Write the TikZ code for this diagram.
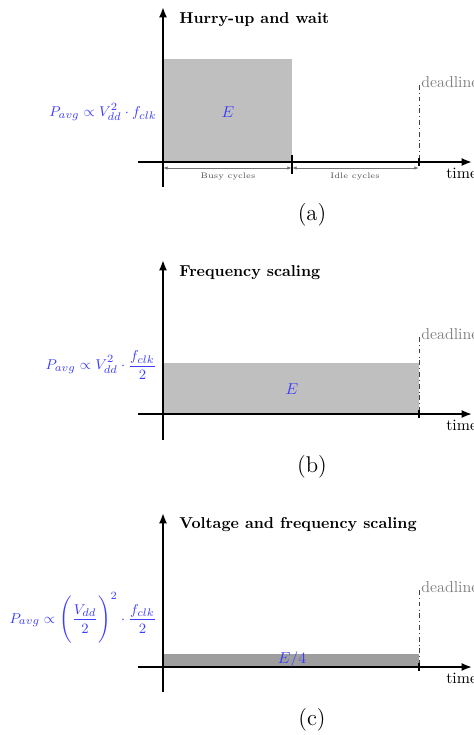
\documentclass[tikz,border=0pt]{standalone}
\usetikzlibrary{arrows.meta}
\definecolor{formblue}{RGB}{60,60,255}
\tikzset{
  axis/.style={line width=1.1pt,-{Latex[length=6.5pt,width=5pt]}},
  energy/.style={fill=black!25,draw=none},
  energydark/.style={fill=black!38,draw=none},
  deadl/.style={dash dot,line width=0.45pt,black!75},
  tickmark/.style={line width=1.1pt},
  dimarrow/.style={black!55,line width=0.6pt,{Latex[length=3pt,width=2.2pt]}-{Latex[length=3pt,width=2.2pt]}},
  dimlabel/.style={font=\tiny,text=black!70,inner sep=0pt},
  title/.style={font=\bfseries,anchor=west,inner sep=0pt},
  formula/.style={text=formblue,anchor=east,inner sep=0pt,font=\fontsize{9.4}{11}\selectfont},
  elabel/.style={text=formblue,inner sep=0pt},
  dlabel/.style={text=black!50,anchor=base west,inner sep=0pt},
  timelabel/.style={anchor=north west,inner sep=0pt},
  caplabel/.style={font=\Large,inner sep=0pt}
}
\begin{document}
\begin{tikzpicture}[x=0.6329pt,y=-0.6329pt]
\useasboundingbox (0,0) rectangle (473,735);

% ---------------- panel (a) ----------------
\fill[energy] (163,59) rectangle (292,162);
\coordinate (a-ytop) at (163,7);
\coordinate (a-ybot) at (163,187);
\coordinate (a-xl) at (138,162);
\coordinate (a-xr) at (472,162);
\coordinate (a-dtop) at (419,85);
\coordinate (a-dbot) at (419,166);
\draw[axis] (a-ybot) -- (a-ytop);
\draw[axis] (a-xl) -- (a-xr);
\draw[deadl] (a-dtop) -- (a-dbot);
\draw[tickmark] (419,158) -- (419,166);
\draw[tickmark] (292,155) -- (292,174);
\coordinate (a-b0) at (163,168);
\coordinate (a-b1) at (292,168);
\coordinate (a-b2) at (419,168);
\draw[dimarrow] (a-b0) -- (a-b1);
\draw[dimarrow] (a-b1) -- (a-b2);
\node[dimlabel] (a-busy) at (228,177) {Busy cycles};
\node[dimlabel] (a-idle) at (355,177) {Idle cycles};
\node[title] (a-title) at (179,20) {Hurry-up and wait};
\node[formula] (a-form) at (157,112) {$P_{avg}\propto V_{dd}^2\cdot f_{clk}$};
\node[elabel] (a-E) at (228,112) {$E$};
\node[dlabel] (a-dl) at (421,87) {deadline};
\node[timelabel] (a-time) at (446,168) {time};
\node[caplabel] (a-cap) at (312,215) {(a)};

% ---------------- panel (b) ----------------
\fill[energy] (163,363) rectangle (419,414);
\coordinate (b-ytop) at (163,260);
\coordinate (b-ybot) at (163,440);
\coordinate (b-xl) at (138,414);
\coordinate (b-xr) at (472,414);
\coordinate (b-dtop) at (419,337);
\coordinate (b-dbot) at (419,418);
\draw[axis] (b-ybot) -- (b-ytop);
\draw[axis] (b-xl) -- (b-xr);
\draw[deadl] (b-dtop) -- (b-dbot);
\draw[tickmark] (419,410) -- (419,418);
\node[title] (b-title) at (179,273) {Frequency scaling};
\node[formula] (b-form) at (157,365) {$\displaystyle P_{avg}\propto V_{dd}^2\cdot \frac{f_{clk}}{2}$};
\node[elabel] (b-E) at (292,389) {$E$};
\node[dlabel] (b-dl) at (421,339) {deadline};
\node[timelabel] (b-time) at (446,420) {time};
\node[caplabel] (b-cap) at (312,467) {(b)};

% ---------------- panel (c) ----------------
\fill[energydark] (163,654) rectangle (419,667);
\coordinate (c-ytop) at (163,513);
\coordinate (c-ybot) at (163,692);
\coordinate (c-xl) at (138,667);
\coordinate (c-xr) at (472,667);
\coordinate (c-dtop) at (419,590);
\coordinate (c-dbot) at (419,671);
\draw[axis] (c-ybot) -- (c-ytop);
\draw[axis] (c-xl) -- (c-xr);
\draw[deadl] (c-dtop) -- (c-dbot);
\draw[tickmark] (419,663) -- (419,671);
\node[title] (c-title) at (179,525) {Voltage and frequency scaling};
\node[formula] (c-form) at (157,618) {$\displaystyle P_{avg}\propto \Biggl(\frac{V_{dd}}{2}\Biggr)^2\cdot \frac{f_{clk}}{2}$};
\node[elabel] (c-E) at (292,660) {$E/4$};
\node[dlabel] (c-dl) at (421,592) {deadline};
\node[timelabel] (c-time) at (446,673) {time};
\node[caplabel] (c-cap) at (312,720) {(c)};
\end{tikzpicture}
\end{document}
